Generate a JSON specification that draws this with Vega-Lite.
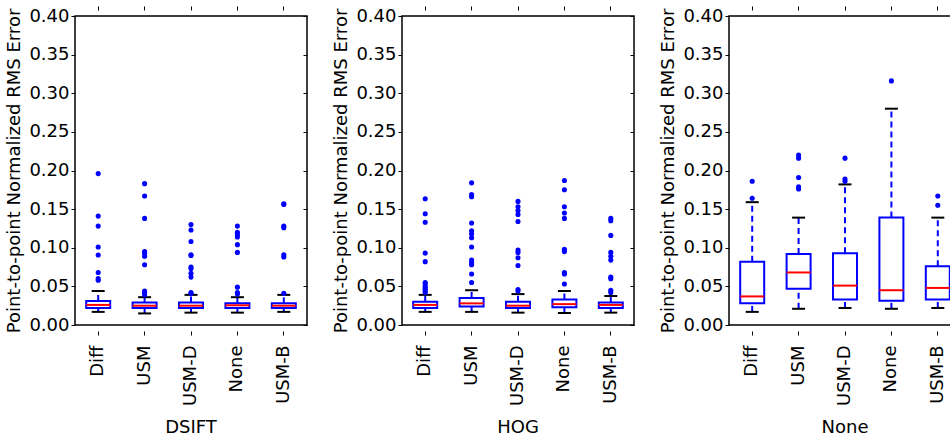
{
  "$schema": "https://vega.github.io/schema/vega-lite/v6.json",
  "background": "white",
  "padding": {"left": 5, "top": 5, "right": 5, "bottom": 5},
  "datasets": {
    "rows": [
      {"f": "DSIFT", "m": "Diff", "lo": 0.017, "q1": 0.022, "med": 0.026, "q3": 0.031, "hi": 0.044},
      {"f": "DSIFT", "m": "USM", "lo": 0.015, "q1": 0.022, "med": 0.025, "q3": 0.029, "hi": 0.036},
      {"f": "DSIFT", "m": "USM-D", "lo": 0.016, "q1": 0.022, "med": 0.025, "q3": 0.029, "hi": 0.039},
      {"f": "DSIFT", "m": "None", "lo": 0.016, "q1": 0.022, "med": 0.0255, "q3": 0.028, "hi": 0.036},
      {"f": "DSIFT", "m": "USM-B", "lo": 0.017, "q1": 0.022, "med": 0.025, "q3": 0.028, "hi": 0.039},
      {"f": "HOG", "m": "Diff", "lo": 0.017, "q1": 0.022, "med": 0.026, "q3": 0.03, "hi": 0.039},
      {"f": "HOG", "m": "USM", "lo": 0.017, "q1": 0.024, "med": 0.028, "q3": 0.035, "hi": 0.045},
      {"f": "HOG", "m": "USM-D", "lo": 0.016, "q1": 0.022, "med": 0.025, "q3": 0.03, "hi": 0.04},
      {"f": "HOG", "m": "None", "lo": 0.0155, "q1": 0.023, "med": 0.027, "q3": 0.033, "hi": 0.044},
      {"f": "HOG", "m": "USM-B", "lo": 0.016, "q1": 0.022, "med": 0.026, "q3": 0.029, "hi": 0.0375},
      {"f": "None", "m": "Diff", "lo": 0.017, "q1": 0.028, "med": 0.037, "q3": 0.082, "hi": 0.159},
      {"f": "None", "m": "USM", "lo": 0.021, "q1": 0.047, "med": 0.068, "q3": 0.092, "hi": 0.139},
      {"f": "None", "m": "USM-D", "lo": 0.022, "q1": 0.033, "med": 0.051, "q3": 0.093, "hi": 0.182},
      {"f": "None", "m": "None", "lo": 0.021, "q1": 0.0315, "med": 0.045, "q3": 0.139, "hi": 0.28},
      {"f": "None", "m": "USM-B", "lo": 0.022, "q1": 0.033, "med": 0.048, "q3": 0.076, "hi": 0.139},

      {"f": "DSIFT", "m": "Diff", "v": 0.196}, {"f": "DSIFT", "m": "Diff", "v": 0.141}, {"f": "DSIFT", "m": "Diff", "v": 0.128}, {"f": "DSIFT", "m": "Diff", "v": 0.101}, {"f": "DSIFT", "m": "Diff", "v": 0.0906}, {"f": "DSIFT", "m": "Diff", "v": 0.068}, {"f": "DSIFT", "m": "Diff", "v": 0.06}, {"f": "DSIFT", "m": "Diff", "v": 0.058},
      {"f": "DSIFT", "m": "USM", "v": 0.183}, {"f": "DSIFT", "m": "USM", "v": 0.167}, {"f": "DSIFT", "m": "USM", "v": 0.138}, {"f": "DSIFT", "m": "USM", "v": 0.095}, {"f": "DSIFT", "m": "USM", "v": 0.093}, {"f": "DSIFT", "m": "USM", "v": 0.089}, {"f": "DSIFT", "m": "USM", "v": 0.078}, {"f": "DSIFT", "m": "USM", "v": 0.044}, {"f": "DSIFT", "m": "USM", "v": 0.042}, {"f": "DSIFT", "m": "USM", "v": 0.039},
      {"f": "DSIFT", "m": "USM-D", "v": 0.13}, {"f": "DSIFT", "m": "USM-D", "v": 0.123}, {"f": "DSIFT", "m": "USM-D", "v": 0.108}, {"f": "DSIFT", "m": "USM-D", "v": 0.091}, {"f": "DSIFT", "m": "USM-D", "v": 0.09}, {"f": "DSIFT", "m": "USM-D", "v": 0.075}, {"f": "DSIFT", "m": "USM-D", "v": 0.073}, {"f": "DSIFT", "m": "USM-D", "v": 0.067}, {"f": "DSIFT", "m": "USM-D", "v": 0.062}, {"f": "DSIFT", "m": "USM-D", "v": 0.042}, {"f": "DSIFT", "m": "USM-D", "v": 0.041},
      {"f": "DSIFT", "m": "None", "v": 0.128}, {"f": "DSIFT", "m": "None", "v": 0.12}, {"f": "DSIFT", "m": "None", "v": 0.117}, {"f": "DSIFT", "m": "None", "v": 0.114}, {"f": "DSIFT", "m": "None", "v": 0.104}, {"f": "DSIFT", "m": "None", "v": 0.094}, {"f": "DSIFT", "m": "None", "v": 0.049}, {"f": "DSIFT", "m": "None", "v": 0.042}, {"f": "DSIFT", "m": "None", "v": 0.04},
      {"f": "DSIFT", "m": "USM-B", "v": 0.157}, {"f": "DSIFT", "m": "USM-B", "v": 0.156}, {"f": "DSIFT", "m": "USM-B", "v": 0.128}, {"f": "DSIFT", "m": "USM-B", "v": 0.126}, {"f": "DSIFT", "m": "USM-B", "v": 0.091}, {"f": "DSIFT", "m": "USM-B", "v": 0.088}, {"f": "DSIFT", "m": "USM-B", "v": 0.041},

      {"f": "HOG", "m": "Diff", "v": 0.1635}, {"f": "HOG", "m": "Diff", "v": 0.144}, {"f": "HOG", "m": "Diff", "v": 0.133}, {"f": "HOG", "m": "Diff", "v": 0.093}, {"f": "HOG", "m": "Diff", "v": 0.082}, {"f": "HOG", "m": "Diff", "v": 0.055}, {"f": "HOG", "m": "Diff", "v": 0.053}, {"f": "HOG", "m": "Diff", "v": 0.05}, {"f": "HOG", "m": "Diff", "v": 0.048}, {"f": "HOG", "m": "Diff", "v": 0.046}, {"f": "HOG", "m": "Diff", "v": 0.044}, {"f": "HOG", "m": "Diff", "v": 0.042},
      {"f": "HOG", "m": "USM", "v": 0.184}, {"f": "HOG", "m": "USM", "v": 0.169}, {"f": "HOG", "m": "USM", "v": 0.166}, {"f": "HOG", "m": "USM", "v": 0.132}, {"f": "HOG", "m": "USM", "v": 0.122}, {"f": "HOG", "m": "USM", "v": 0.118}, {"f": "HOG", "m": "USM", "v": 0.113}, {"f": "HOG", "m": "USM", "v": 0.101}, {"f": "HOG", "m": "USM", "v": 0.084}, {"f": "HOG", "m": "USM", "v": 0.081}, {"f": "HOG", "m": "USM", "v": 0.078}, {"f": "HOG", "m": "USM", "v": 0.066}, {"f": "HOG", "m": "USM", "v": 0.055},
      {"f": "HOG", "m": "USM-D", "v": 0.16}, {"f": "HOG", "m": "USM-D", "v": 0.153}, {"f": "HOG", "m": "USM-D", "v": 0.148}, {"f": "HOG", "m": "USM-D", "v": 0.143}, {"f": "HOG", "m": "USM-D", "v": 0.134}, {"f": "HOG", "m": "USM-D", "v": 0.097}, {"f": "HOG", "m": "USM-D", "v": 0.094}, {"f": "HOG", "m": "USM-D", "v": 0.087}, {"f": "HOG", "m": "USM-D", "v": 0.077}, {"f": "HOG", "m": "USM-D", "v": 0.046}, {"f": "HOG", "m": "USM-D", "v": 0.044},
      {"f": "HOG", "m": "None", "v": 0.187}, {"f": "HOG", "m": "None", "v": 0.175}, {"f": "HOG", "m": "None", "v": 0.153}, {"f": "HOG", "m": "None", "v": 0.145}, {"f": "HOG", "m": "None", "v": 0.138}, {"f": "HOG", "m": "None", "v": 0.098}, {"f": "HOG", "m": "None", "v": 0.095}, {"f": "HOG", "m": "None", "v": 0.068}, {"f": "HOG", "m": "None", "v": 0.066}, {"f": "HOG", "m": "None", "v": 0.053},
      {"f": "HOG", "m": "USM-B", "v": 0.138}, {"f": "HOG", "m": "USM-B", "v": 0.135}, {"f": "HOG", "m": "USM-B", "v": 0.116}, {"f": "HOG", "m": "USM-B", "v": 0.094}, {"f": "HOG", "m": "USM-B", "v": 0.089}, {"f": "HOG", "m": "USM-B", "v": 0.084}, {"f": "HOG", "m": "USM-B", "v": 0.062}, {"f": "HOG", "m": "USM-B", "v": 0.06}, {"f": "HOG", "m": "USM-B", "v": 0.045}, {"f": "HOG", "m": "USM-B", "v": 0.042},

      {"f": "None", "m": "Diff", "v": 0.186}, {"f": "None", "m": "Diff", "v": 0.164},
      {"f": "None", "m": "USM", "v": 0.22}, {"f": "None", "m": "USM", "v": 0.216}, {"f": "None", "m": "USM", "v": 0.191}, {"f": "None", "m": "USM", "v": 0.179}, {"f": "None", "m": "USM", "v": 0.176},
      {"f": "None", "m": "USM-D", "v": 0.216}, {"f": "None", "m": "USM-D", "v": 0.189}, {"f": "None", "m": "USM-D", "v": 0.186},
      {"f": "None", "m": "None", "v": 0.316},
      {"f": "None", "m": "USM-B", "v": 0.167}, {"f": "None", "m": "USM-B", "v": 0.155}
    ]
  },
  "data": {"name": "rows"},
  "facet": {
    "column": {
      "field": "f", "type": "nominal", "sort": ["DSIFT", "HOG", "None"],
      "header": {"title": null, "labelOrient": "bottom", "labelFontSize": 18, "labelFont": "DejaVu Sans", "labelColor": "black", "labelPadding": 14}
    }
  },
  "spacing": 23,
  "resolve": {"axis": {"y": "independent"}},
  "spec": {
    "width": 232,
    "height": 309,
    "resolve": {"axis": {"y": "independent", "x": "independent"}},
    "layer": [
      {
        "layer": [
          {
            "transform": [{"filter": "datum.q1 != null"}],
            "mark": {"type": "rule", "color": "#0000ff", "strokeWidth": 2, "strokeDash": [6, 4]},
            "encoding": {
              "x": {"field": "m", "type": "nominal", "sort": ["Diff", "USM", "USM-D", "None", "USM-B"], "title": null},
              "y": {"field": "q3", "type": "quantitative", "scale": {"domain": [0, 0.4], "nice": false, "zero": false}, "title": "Point-to-point Normalized RMS Error"},
              "y2": {"field": "hi"}
            }
          },
          {
            "transform": [{"filter": "datum.q1 != null"}],
            "mark": {"type": "rule", "color": "#0000ff", "strokeWidth": 2, "strokeDash": [6, 4]},
            "encoding": {
              "x": {"field": "m", "type": "nominal", "sort": ["Diff", "USM", "USM-D", "None", "USM-B"], "title": null},
              "y": {"field": "lo", "type": "quantitative", "title": "Point-to-point Normalized RMS Error"},
              "y2": {"field": "q1"}
            }
          },
          {
            "transform": [{"filter": "datum.q1 != null"}],
            "mark": {"type": "bar", "fill": "white", "stroke": "#0000ff", "strokeWidth": 2, "size": 24},
            "encoding": {
              "x": {"field": "m", "type": "nominal", "sort": ["Diff", "USM", "USM-D", "None", "USM-B"], "title": null},
              "y": {"field": "q1", "type": "quantitative", "title": "Point-to-point Normalized RMS Error"},
              "y2": {"field": "q3"}
            }
          },
          {
            "transform": [{"filter": "datum.q1 != null"}],
            "mark": {"type": "tick", "color": "#ff0000", "size": 24, "thickness": 2, "opacity": 1},
            "encoding": {
              "x": {"field": "m", "type": "nominal", "sort": ["Diff", "USM", "USM-D", "None", "USM-B"], "title": null},
              "y": {"field": "med", "type": "quantitative", "title": "Point-to-point Normalized RMS Error"}
            }
          },
          {
            "transform": [{"filter": "datum.q1 != null"}],
            "mark": {"type": "tick", "color": "black", "size": 13, "thickness": 2, "opacity": 1},
            "encoding": {
              "x": {"field": "m", "type": "nominal", "sort": ["Diff", "USM", "USM-D", "None", "USM-B"], "title": null},
              "y": {"field": "lo", "type": "quantitative", "title": "Point-to-point Normalized RMS Error"}
            }
          },
          {
            "transform": [{"filter": "datum.q1 != null"}],
            "mark": {"type": "tick", "color": "black", "size": 13, "thickness": 2, "opacity": 1},
            "encoding": {
              "x": {"field": "m", "type": "nominal", "sort": ["Diff", "USM", "USM-D", "None", "USM-B"], "title": null},
              "y": {"field": "hi", "type": "quantitative", "title": "Point-to-point Normalized RMS Error"}
            }
          },
          {
            "transform": [{"filter": "datum.v != null"}],
            "mark": {"type": "circle", "color": "#0000ff", "size": 26, "opacity": 1},
            "encoding": {
              "x": {"field": "m", "type": "nominal", "sort": ["Diff", "USM", "USM-D", "None", "USM-B"], "title": null},
              "y": {"field": "v", "type": "quantitative", "title": "Point-to-point Normalized RMS Error"}
            }
          }
        ]
      },
      {
        "transform": [{"filter": "datum.q1 != null"}],
        "mark": {"type": "tick", "opacity": 0},
        "encoding": {
          "x": {"field": "m", "type": "nominal", "sort": ["Diff", "USM", "USM-D", "None", "USM-B"], "title": null, "axis": {"orient": "top", "labels": false, "tickSize": -4, "title": null}},
          "y": {"field": "med", "type": "quantitative", "title": null, "axis": {"orient": "right", "labels": false, "tickSize": -4, "title": null}}
        }
      }
    ]
  },
  "config": {
    "font": "DejaVu Sans",
    "view": {"stroke": "black", "strokeWidth": 1.5},
    "axis": {"grid": false, "domain": false, "labelColor": "black", "titleColor": "black", "tickColor": "black", "labelFont": "DejaVu Sans", "titleFont": "DejaVu Sans", "titleFontWeight": "normal"},
    "axisY": {"values": [0, 0.05, 0.1, 0.15, 0.2, 0.25, 0.3, 0.35, 0.4], "format": ".2f", "labelFontSize": 18, "titleFontSize": 18, "tickSize": 4, "labelPadding": 2, "titlePadding": 5},
    "axisX": {"labelAngle": -90, "labelFontSize": 18, "tickSize": -4, "labelPadding": 14}
  }
}
